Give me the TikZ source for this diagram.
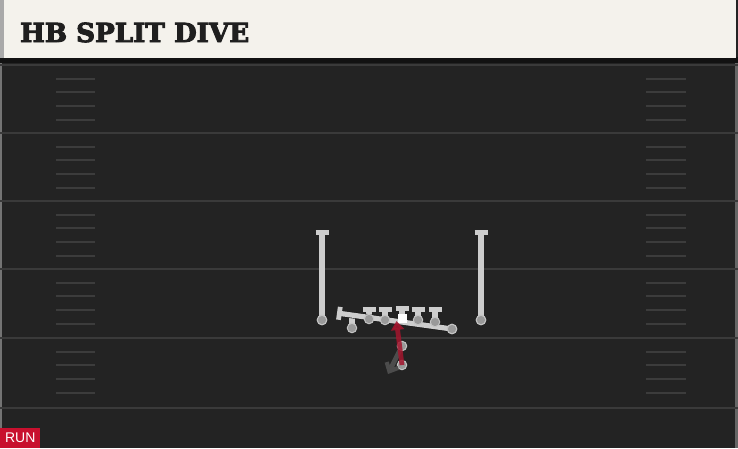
\documentclass[tikz,border=0pt]{standalone}
\usepackage{fontspec}
\setmainfont{DejaVu Serif}
\newfontfamily\titlefont{DejaVu Serif}[UprightFont=* Bold, FakeBold=3.5]
\newfontfamily\runfont{Liberation Sans}
\usetikzlibrary{arrows.meta}
\definecolor{field}{HTML}{232323}
\definecolor{cream}{HTML}{F4F2EC}
\definecolor{edgegray}{HTML}{A9A9A9}
\definecolor{shadowc}{HTML}{121212}
\definecolor{yardc}{HTML}{3A3A3A}
\definecolor{hashc}{HTML}{3C3C3C}
\definecolor{playerc}{HTML}{CDCDCD}
\definecolor{outlinec}{HTML}{161616}
\definecolor{dotfill}{HTML}{999999}
\definecolor{dotdraw}{HTML}{C4C4C4}
\definecolor{runred}{HTML}{A3152D}
\definecolor{tagred}{HTML}{C8102E}
\definecolor{motionc}{HTML}{4C4C4C}
\tikzset{
  yard/.style={draw=yardc, line width=1.8pt},
  hash/.style={draw=hashc, line width=1.4pt},
  stem/.style={draw=playerc, line width=5.2pt, preaction={draw=outlinec, line width=6.4pt}},
  tbar/.style={-{Bar[width=13pt,line width=4.8pt]}},
  dot/.style={circle, fill=dotfill, draw=dotdraw, line width=1pt, minimum size=9.5pt, inner sep=0pt},
  ctr/.style={rectangle, fill=white, minimum size=9pt, inner sep=0pt},
  runarrow/.style={draw=runred, line width=4.8pt, -{Triangle[width=13pt,length=9pt]}},
  motion/.style={draw=motionc, line width=4.8pt, -{Straight Barb[width=13pt,length=7pt,line width=4.2pt]}}
}
\begin{document}
\begin{tikzpicture}[x=1pt,y=-1pt]
\useasboundingbox (0,0) rectangle (738,448);
\fill[field] (0,0) rectangle (738,448);
\fill[shadowc] (0,57) rectangle (738,63);
\fill[cream] (0,0) rectangle (736,58);
\fill[edgegray] (0,0) rectangle (4,58);
\fill[edgegray!60!field] (0,63) rectangle (2,448);
\fill[edgegray!50!field] (735,63) rectangle (738,448);
% yard lines
\foreach \y in {65,133,201,269,338,408} {
  \draw[yard] (0,\y) -- (738,\y);
}
% hash marks
\foreach \y in {65,133,201,269,338} {
  \foreach \d in {14,27,41,55} {
    \draw[hash] (56,\y+\d) -- (95,\y+\d);
    \draw[hash] (646,\y+\d) -- (686,\y+\d);
  }
}
% title
\node[anchor=base west, inner sep=0pt, font=\titlefont\fontsize{27}{30}\selectfont, text=black!88] (title) at (20,42)
  {\resizebox{229pt}{!}{HB SPLIT DIVE}};
% run tag
\node[fill=tagred, text=white, minimum width=40pt, minimum height=20pt, inner sep=0pt, anchor=south west,
  font=\runfont\fontsize{14}{14}\selectfont] (tag) at (0,448) {RUN};
% receivers
\node[dot] (wrL) at (322,320) {};
\coordinate (wrLt) at (322,230);
\node[dot] (wrR) at (481,320) {};
\coordinate (wrRt) at (481,230);
\draw[stem,tbar] (wrL.center) -- (wrLt);
\draw[stem,tbar] (wrR.center) -- (wrRt);
\node[dot] at (wrL) {};
\node[dot] at (wrR) {};
% linemen stems
\foreach \n/\x/\yy in {lt/369/319, lg/385/320, rg/418/320, rt/435/322} {
  \coordinate (\n) at (\x,\yy);
  \coordinate (\n t) at (\x,307);
  \draw[stem,tbar] (\n) -- (\n t);
}
\coordinate (c) at (402,318);
\coordinate (ct) at (402,306);
\draw[stem,tbar] (c) -- (ct);
% block line
\coordinate (blkL) at (337,313);
\node[dot] (blkR) at (452,329) {};
\coordinate (te) at (352,328);
\coordinate (tet) at (352,316);
\draw[stem] (te) -- (tet);
\draw[stem,{Bar[width=13pt,line width=4.8pt]}-] (blkL) -- (blkR.center);
\node[dot] at (blkR) {};
\node[dot] at (te) (teD) {};
\foreach \n in {lt,lg,rg,rt} { \node[dot] (\n D) at (\n) {}; }
\node[ctr] (cD) at (c) {};
% backs
\node[dot] (qb) at (402,346) {};
\node[dot] (hb) at (402,365) {};
\coordinate (qbEnd) at (388,374);
\coordinate (hbEnd) at (396.5,321);
\draw[motion] (qb) -- (qbEnd);
\draw[runarrow, opacity=0.85] (hb.center) -- (hbEnd);
\end{tikzpicture}
\end{document}
